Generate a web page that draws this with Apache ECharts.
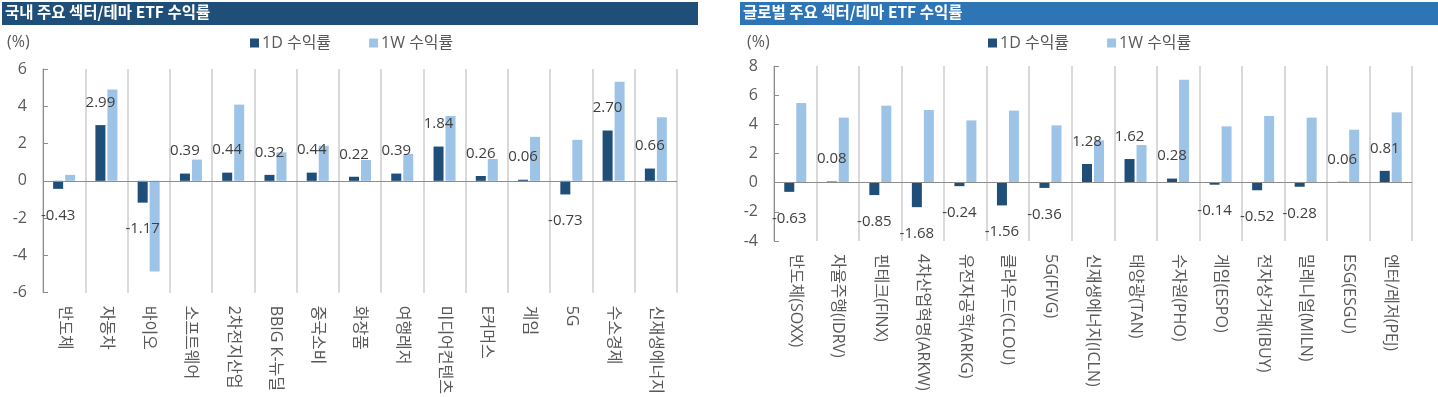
<!DOCTYPE html>
<html>
<head>
<meta charset="utf-8">
<script src="https://cdn.jsdelivr.net/npm/echarts@6/dist/echarts.min.js"></script>
<style>
  html, body { margin: 0; padding: 0; background: #fff; }
  #chart { width: 1438px; height: 397px; }
</style>
</head>
<body>
<div id="chart"></div>
<script>
  // 국내 주요 섹터/테마 ETF
  const domesticCategories = ['반도체', '자동차', '바이오', '소프트웨어', '2차전지산업', 'BBIG K-뉴딜', '중국소비', '화장품', '여행레저', '미디어컨텐츠', 'E커머스', '게임', '5G', '수소경제', '신재생에너지']
  const domestic1D = [-0.43, 2.99, -1.17, 0.39, 0.44, 0.32, 0.44, 0.22, 0.39, 1.84, 0.26, 0.06, -0.73, 2.70, 0.66]
  const domestic1W = [0.32, 4.90, -4.87, 1.14, 4.09, 1.53, 1.88, 1.12, 1.44, 3.48, 1.17, 2.36, 2.20, 5.32, 3.41]
  const domesticTicks = { min: -6, max: 6, interval: 2 }

  // 글로벌 주요 섹터/테마 ETF
  const globalCategories = ['반도체(SOXX)', '자율주행(IDRV)', '핀테크(FINX)', '4차산업혁명(ARKW)', '유전자공학(ARKG)', '클라우드(CLOU)', '5G(FIVG)', '신재생에너지(ICLN)', '태양광(TAN)', '수자원(PHO)', '게임(ESPO)', '전자상거래(IBUY)', '밀레니얼(MILN)', 'ESG(ESGU)', '엔터/레저(PEJ)']
  const global1D = [-0.63, 0.08, -0.85, -1.68, -0.24, -1.56, -0.36, 1.28, 1.62, 0.28, -0.14, -0.52, -0.28, 0.06, 0.81]
  const global1W = [5.46, 4.46, 5.28, 4.98, 4.27, 4.94, 3.93, 2.90, 2.58, 7.06, 3.86, 4.57, 4.46, 3.63, 4.82]
  const globalTicks = { min: -4, max: 8, interval: 2 }

  const seriesNames = ['1D 수익률', '1W 수익률']

  const FONT = "'Open Sans', 'Noto Sans CJK KR', sans-serif"
  const DARK = '#1f4e79'
  const LIGHT = '#9dc3e6'
  const AXIS_GRAY = '#8c8c8c'
  const TEXT_GRAY = '#595959'

  const chart = echarts.init(document.getElementById('chart'))

  const makeXAxis = (gridIndex, categories) => ({
    type: 'category',
    gridIndex,
    data: categories,
    position: 'bottom',
    axisLine: { show: false, onZero: false },
    axisTick: { show: false },
    splitLine: { show: true, interval: 0, lineStyle: { color: '#d9d9d9', width: 2 } },
    axisLabel: {
      interval: 0,
      rotate: -90,
      margin: 13,
      color: TEXT_GRAY,
      fontSize: 16,
      fontFamily: FONT
    }
  })

  const makeYAxis = (gridIndex, ticks) => ({
    type: 'value',
    gridIndex,
    min: ticks.min,
    max: ticks.max,
    interval: ticks.interval,
    axisLine: { show: true, lineStyle: { color: AXIS_GRAY } },
    axisTick: { show: true, inside: true, length: 5, lineStyle: { color: AXIS_GRAY } },
    splitLine: { show: false },
    axisLabel: { color: TEXT_GRAY, fontSize: 16, fontFamily: FONT, margin: 16 }
  })

  const labelled = (values) =>
    values.map((v) => ({
      value: v,
      label: { position: v < 0 ? 'bottom' : 'top', distance: v < 0 ? 19 : 15 }
    }))

  const makeSeries = (idx, d1, w1) => [
    {
      name: seriesNames[0],
      type: 'bar',
      xAxisIndex: idx,
      yAxisIndex: idx,
      barWidth: 10,
      barGap: '20%',
      itemStyle: { color: DARK },
      label: {
        show: true,
        color: '#404040',
        fontSize: 15,
        fontFamily: FONT,
        formatter: (p) => p.value.toFixed(2)
      },
      data: labelled(d1)
    },
    {
      name: seriesNames[1],
      type: 'bar',
      xAxisIndex: idx,
      yAxisIndex: idx,
      barWidth: 10,
      barGap: '20%',
      itemStyle: { color: LIGHT },
      markLine: {
        silent: true,
        symbol: 'none',
        label: { show: false },
        lineStyle: { color: AXIS_GRAY, width: 1, type: 'solid' },
        data: [{ yAxis: 0 }]
      },
      data: w1
    }
  ]

  const makeLegend = (left) => ({
    left,
    top: 30,
    data: seriesNames,
    icon: 'rect',
    itemWidth: 9,
    itemHeight: 9,
    itemGap: 38,
    textStyle: { color: TEXT_GRAY, fontSize: 16, fontFamily: FONT, padding: [0, 0, 0, -2] }
  })

  const titleBar = (x, w, color, text) => [
    { type: 'rect', left: x, top: 2, shape: { width: w, height: 23 }, style: { fill: color } },
    {
      type: 'text',
      left: x + 3,
      top: 4,
      style: { text, fill: '#fff', font: "bold 15.5px 'Noto Sans CJK KR', sans-serif" }
    }
  ]

  const unitText = (x) => ({
    type: 'text',
    left: x,
    top: 34,
    style: { text: '(%)', fill: TEXT_GRAY, font: "16px 'Open Sans', sans-serif" }
  })

  const option = {
    animation: false,
    textStyle: { fontFamily: FONT },
    grid: [
      { left: 43, top: 69, width: 634, height: 225 },
      { left: 774, top: 66, width: 638, height: 175 }
    ],
    legend: [makeLegend(245), makeLegend(983)],
    xAxis: [makeXAxis(0, domesticCategories), makeXAxis(1, globalCategories)],
    yAxis: [makeYAxis(0, domesticTicks), makeYAxis(1, globalTicks)],
    series: [
      ...makeSeries(0, domestic1D, domestic1W),
      ...makeSeries(1, global1D, global1W)
    ],
    graphic: [
      ...titleBar(2, 696, DARK, '국내 주요 섹터/테마 ETF 수익률'),
      ...titleBar(740, 698, '#2e75b6', '글로벌 주요 섹터/테마 ETF 수익률'),
      unitText(7),
      unitText(747)
    ]
  }

  chart.setOption(option)
</script>
</body>
</html>
